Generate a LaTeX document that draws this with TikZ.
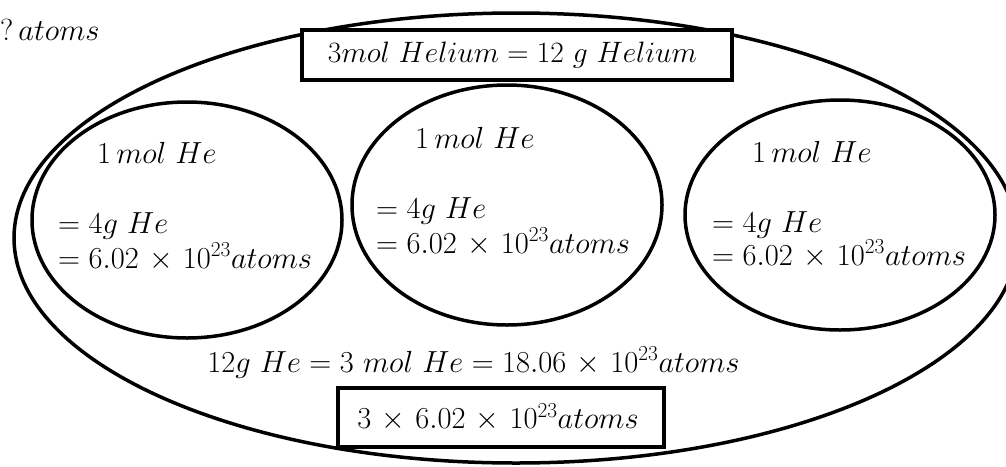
\RequirePackage{fix-cm}
\documentclass[tikz,border=0pt]{standalone}
\usetikzlibrary{shapes.geometric}
\newcommand\diagfont{\fontsize{30.5}{36}\selectfont\medmuskip=6mu\relax}
\newcommand\boxfont{\fontsize{29.5}{35}\selectfont}
\begin{document}
\begin{tikzpicture}[x=1pt,y=-1pt,
  every node/.style={font=\diagfont, inner sep=0pt},
  ring/.style={draw, ellipse, line width=3.5pt, inner sep=0pt},
  box/.style={draw, line width=3.5pt, rectangle, fill=white, inner sep=0pt},
  lbl/.style={anchor=base west}]
\useasboundingbox (0,0) rectangle (1006,466);
\clip (0,0) rectangle (1006,466);
% outer ellipse
\node[ring, minimum width=1004pt, minimum height=450pt] (outer) at (516,238) {};
% inner ellipses
\node[ring, minimum width=310pt, minimum height=236pt] (left) at (187,220) {};
\node[ring, minimum width=310pt, minimum height=240pt] (mid) at (507,205) {};
\node[ring, minimum width=310pt, minimum height=230pt] (right) at (840,215) {};
% boxes
\node[box, minimum width=430pt, minimum height=50pt] (top) at (517,55) {};
\node[font=\boxfont] (toptext) at (512.5,55) {$3mol\ Helium = 12\ g\ Helium$};
\node[box, minimum width=326pt, minimum height=59pt] (bot) at (501,417.5) {};
\node (bottext) at (498,417.5) {$3\times6.02\times10^{23}atoms$};
% question text
\node[lbl] (q) at (0,40) {$?\,atoms$};
% left ellipse text
\node[lbl] (l1) at (97,163) {$1\,mol\ He$};
\node[lbl] (l2) at (58,233) {$=4g\ He$};
\node[lbl] (l3) at (58,268) {$=6.02\times10^{23}atoms$};
% middle ellipse text
\node[lbl] (m1) at (415,148) {$1\,mol\ He$};
\node[lbl] (m2) at (376,218) {$=4g\ He$};
\node[lbl] (m3) at (376,253) {$=6.02\times10^{23}atoms$};
% right ellipse text
\node[lbl] (r1) at (752,162) {$1\,mol\ He$};
\node[lbl] (r2) at (712,232) {$=4g\ He$};
\node[lbl] (r3) at (712,265) {$=6.02\times10^{23}atoms$};
% total line
\node[anchor=base] (total) at (473.5,372) {$12g\ He=3\ mol\ He=18.06\times10^{23}atoms$};
\end{tikzpicture}
\end{document}
